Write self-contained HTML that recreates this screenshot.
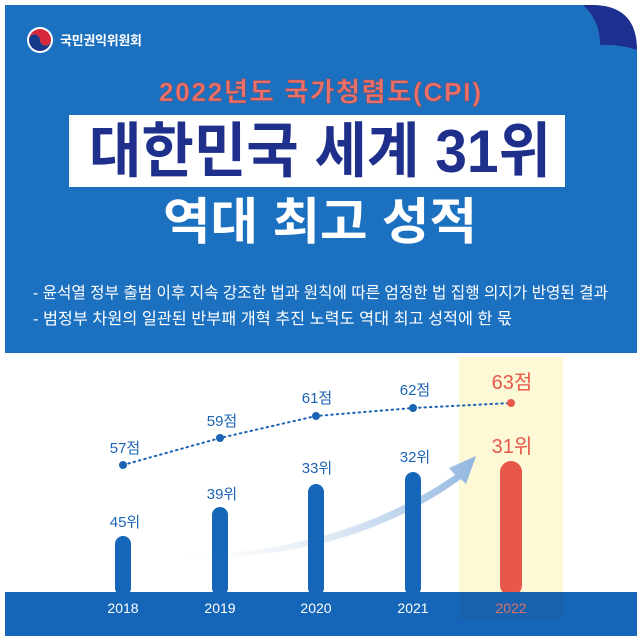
<!DOCTYPE html>
<html><head><meta charset="utf-8"><style>
html,body{margin:0;padding:0;background:#fff;width:640px;height:643px;overflow:hidden}
svg{display:block}
text{font-family:"Liberation Sans","Noto Sans CJK KR",sans-serif}
</style></head><body>
<svg width="640" height="643" viewBox="0 0 640 643">
<defs>
<linearGradient id="arr" x1="0" y1="0" x2="1" y2="0">
<stop offset="0" stop-color="#ffffff" stop-opacity="0"/>
<stop offset="1" stop-color="#8fb6df"/>
</linearGradient>
</defs>
<rect x="0" y="0" width="640" height="643" fill="#fff"/>
<path d="M5 5 H592 Q637 5 637 50 V353 H5 Z" fill="#1d2f8f"/>
<path d="M5 5 H583 Q600 20 600 45 Q620 44 637 50 V353 H5 Z" fill="#1c70c0"/>
<circle cx="40" cy="40" r="13" fill="#fff"/>
<path d="M29 40 A11 11 0 0 1 51 40 A5.5 5.5 0 0 1 40 40 A5.5 5.5 0 0 0 29 40Z" fill="#d6263a"/>
<path d="M29 40 A11 11 0 0 0 51 40 A5.5 5.5 0 0 1 40 40 A5.5 5.5 0 0 0 29 40Z" fill="#16398a"/>
<text x="60" y="45" font-size="13" fill="#fff" font-weight="bold" textLength="82">국민권익위원회</text>
<text x="320" y="101" font-size="26" fill="#e8716b" font-weight="bold" text-anchor="middle" textLength="322" stroke="#a34b4b" stroke-width="0.5">2022년도 국가청렴도(CPI)</text>
<rect x="69" y="115" width="496" height="72" fill="#fff"/>
<text x="320" y="172" font-size="60" fill="#1e2f8c" font-weight="bold" text-anchor="middle" textLength="462" lengthAdjust="spacingAndGlyphs">대한민국 세계 31위</text>
<text x="320" y="239" font-size="50" fill="#fff" font-weight="bold" text-anchor="middle" textLength="314" lengthAdjust="spacingAndGlyphs">역대 최고 성적</text>
<text x="33" y="298" font-size="16" fill="#fff" textLength="575" lengthAdjust="spacingAndGlyphs">- 윤석열 정부 출범 이후 지속 강조한 법과 원칙에 따른 엄정한 법 집행 의지가 반영된 결과</text>
<text x="33" y="324" font-size="16" fill="#fff" textLength="479" lengthAdjust="spacingAndGlyphs">- 범정부 차원의 일관된 반부패 개혁 추진 노력도 역대 최고 성적에 한 몫</text>
<rect x="459" y="357" width="104" height="262" fill="#fdf8d6"/>
<path d="M153 555 Q330 560 455 475 L449 468 L476 456 L466 484 L461 479 Q335 570 153 555Z" fill="url(#arr)"/>
<path d="M123 465 L220 438 L316 416 L413 408 L511 403" fill="none" stroke="#1b64b4" stroke-width="2" stroke-dasharray="1.5 4" stroke-linecap="round"/>
<g fill="#1b64b4">
<circle cx="123" cy="465" r="4"/><circle cx="220" cy="438" r="4"/><circle cx="316" cy="416" r="4"/><circle cx="413" cy="408" r="4"/>
</g>
<circle cx="511" cy="403" r="4" fill="#e8584a"/>
<g font-size="15" fill="#1b64b4" text-anchor="middle">
<text x="125" y="453">57점</text><text x="222" y="426">59점</text><text x="317" y="403">61점</text><text x="415" y="395">62점</text>
<text x="125" y="527">45위</text><text x="222" y="499">39위</text><text x="317" y="473">33위</text><text x="415" y="462">32위</text>
</g>
<text x="512" y="389" font-size="20" fill="#e8584a" text-anchor="middle">63점</text>
<text x="512" y="453" font-size="20" fill="#e8584a" text-anchor="middle">31위</text>
<g fill="#1566b8">
<rect x="115" y="536" width="16" height="60" rx="8"/>
<rect x="212" y="507" width="16" height="89" rx="8"/>
<rect x="308" y="484" width="16" height="112" rx="8"/>
<rect x="405" y="472" width="16" height="124" rx="8"/>
</g>
<rect x="500" y="461" width="22" height="135" rx="11" fill="#e8584a"/>
<rect x="5" y="592" width="632" height="44" fill="#1566b8"/>
<rect x="459" y="592" width="104" height="28" fill="#1c5fa6" opacity="0.6"/>
<g font-size="14" fill="#fff" text-anchor="middle">
<text x="123" y="613">2018</text><text x="220" y="613">2019</text><text x="316" y="613">2020</text><text x="413" y="613">2021</text>
</g>
<text x="511" y="613" font-size="14" fill="#d9706e" text-anchor="middle">2022</text>
</svg>
</body></html>
